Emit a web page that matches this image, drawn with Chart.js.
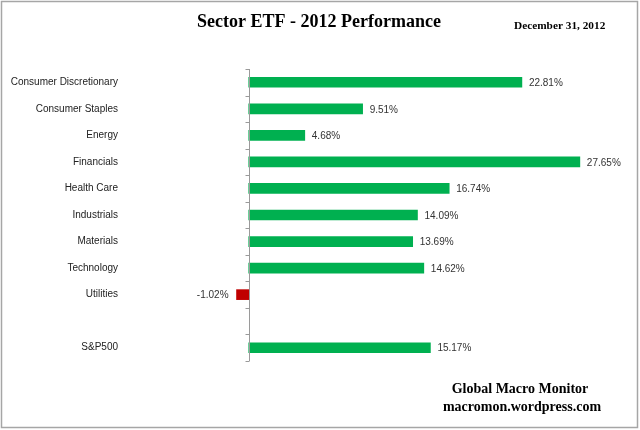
<!DOCTYPE html>
<html>
<head>
<meta charset="utf-8">
<script src="https://cdn.jsdelivr.net/npm/chart.js@4.4.0/dist/chart.umd.min.js"></script>
<style>
  html, body { margin: 0; padding: 0; background: #fff; }
  #wrap { width: 640px; height: 430px; position: relative; }
</style>
</head>
<body>
<div id="wrap"><canvas id="c" width="640" height="430"></canvas></div>
<script>
const categories = ["Consumer Discretionary", "Consumer Staples", "Energy", "Financials", "Health Care", "Industrials", "Materials", "Technology", "Utilities", "", "S&P500"];
const performance = [22.81, 9.51, 4.68, 27.65, 16.74, 14.09, 13.69, 14.62, -1.02, null, 15.17];
const titleText = "Sector ETF - 2012 Performance";
const dateText = "December 31, 2012";
const footerLines = ["Global Macro Monitor", "macromon.wordpress.com"];

const GREEN = "#00B050";
const RED = "#C00000";

const decorPlugin = {
  id: "decor",
  afterDraw(chart) {
    const ctx = chart.ctx;
    const xs = chart.scales.x;
    const ca = chart.chartArea;
    ctx.save();
    // zero axis line
    const x0 = Math.round(xs.getPixelForValue(0)) + 0.5;
    ctx.strokeStyle = "#9a9a9a";
    ctx.lineWidth = 1;
    ctx.beginPath();
    ctx.moveTo(x0, ca.top);
    ctx.lineTo(x0, ca.bottom);
    // tick marks at category boundaries
    const n = categories.length;
    const step = (ca.bottom - ca.top) / n;
    for (let i = 0; i <= n; i++) {
      const y = Math.round(ca.top + i * step) + 0.5;
      ctx.moveTo(x0 - 4, y);
      ctx.lineTo(x0, y);
    }
    ctx.stroke();

    // value labels
    const meta = chart.getDatasetMeta(0);
    ctx.font = "10px 'Liberation Sans', Arial, sans-serif";
    ctx.fillStyle = "#333";
    ctx.textBaseline = "middle";
    meta.data.forEach((el, i) => {
      const v = performance[i];
      if (v === null || v === undefined) return;
      const txt = v.toFixed(2) + "%";
      if (v >= 0) {
        ctx.textAlign = "left";
        ctx.fillText(txt, el.x + 7, el.y + 1);
      } else {
        ctx.textAlign = "right";
        ctx.fillText(txt, el.x - 8, el.y + 1);
      }
    });

    // title
    ctx.fillStyle = "#000";
    ctx.textBaseline = "alphabetic";
    ctx.textAlign = "center";
    ctx.font = "bold 18px 'Liberation Serif', 'Times New Roman', serif";
    ctx.fillText(titleText, 319, 27);
    ctx.textAlign = "left";
    ctx.font = "bold 11.3px 'Liberation Serif', 'Times New Roman', serif";
    ctx.fillText(dateText, 514, 29);

    // footer
    ctx.font = "bold 14px 'Liberation Serif', 'Times New Roman', serif";
    ctx.textAlign = "center";
    ctx.fillText(footerLines[0], 520, 393);
    ctx.fillText(footerLines[1], 522, 411);

    // outer border
    ctx.strokeStyle = "#a6a6a6";
    ctx.lineWidth = 1.5;
    ctx.strokeRect(1.5, 1.5, 636, 426);
    ctx.restore();
  }
};

new Chart(document.getElementById("c"), {
  type: "bar",
  data: {
    labels: categories,
    datasets: [{
      data: performance,
      backgroundColor: performance.map(v => (v !== null && v < 0) ? RED : GREEN),
      barThickness: 10,
      borderWidth: 0
    }]
  },
  options: {
    indexAxis: "y",
    responsive: false,
    animation: false,
    devicePixelRatio: 1,
    layout: { padding: { top: 69, bottom: 69, left: 0, right: 32 } },
    plugins: {
      legend: { display: false },
      title: { display: false },
      tooltip: { enabled: false }
    },
    scales: {
      x: {
        display: false,
        min: -10,
        max: 30
      },
      y: {
        grid: { display: false, drawTicks: false },
        border: { display: false },
        ticks: {
          padding: 11,
          color: "#222",
          font: { family: "'Liberation Sans', Arial, sans-serif", size: 10 },
          autoSkip: false
        },
        afterFit(scale) { scale.width = 129; }
      }
    }
  },
  plugins: [decorPlugin]
});
</script>
</body>
</html>
